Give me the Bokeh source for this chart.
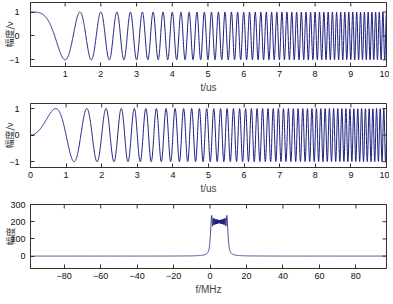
import numpy as np
from bokeh.plotting import figure
from bokeh.layouts import column
from bokeh.models import FixedTicker, Range1d
from bokeh.embed import file_html
from bokeh.resources import INLINE

# chirp parameters
T_us = 10.0      # pulse width (us)
B_MHz = 10.0     # swept bandwidth (MHz)
fs_MHz = 200.0   # sample rate (MHz)

time_ticks_top = [1, 2, 3, 4, 5, 6, 7, 8, 9, 10]
time_ticks_mid = [0, 1, 2, 3, 4, 5, 6, 7, 8, 9, 10]
freq_ticks = [-80, -60, -40, -20, 0, 20, 40, 60, 80]
amp_ticks = [-1, 0, 1]
spec_ticks = [0, 100, 200, 300]

N = int(T_us * fs_MHz)
t = np.arange(N) / fs_MHz
k = B_MHz / T_us
phase = np.pi * k * t ** 2
sig_re = np.cos(phase)
sig_im = np.sin(phase)
spec = np.abs(np.fft.fftshift(np.fft.fft(sig_re + 1j * sig_im)))
freq = np.linspace(-fs_MHz / 2, fs_MHz / 2, N)

LINE = "#1f1f80"
AX = "#333333"
TICK_FONT = "Liberation Sans"
CJK = "Noto Sans CJK SC"


def style_axis(ax, ticks, standoff):
    ax.ticker = FixedTicker(ticks=ticks)
    ax.major_tick_in = 4
    ax.major_tick_out = 0
    ax.minor_tick_in = 0
    ax.minor_tick_out = 0
    ax.axis_line_color = AX
    ax.major_tick_line_color = AX
    ax.major_label_text_font = TICK_FONT
    ax.major_label_text_color = "#111111"
    ax.major_label_text_font_size = "9px"
    ax.major_label_standoff = standoff


def make_fig(xr, yr, frame_h, top_border, xticks, yticks, xlabel, ylabel,
             ytick_standoff, ystand):
    p = figure(frame_width=356, frame_height=frame_h,
               x_range=Range1d(*xr), y_range=Range1d(*yr),
               output_backend="svg", toolbar_location=None,
               min_border_left=23, min_border_right=3,
               min_border_top=top_border, min_border_bottom=0)
    p.xgrid.visible = False
    p.ygrid.visible = False
    p.outline_line_color = AX
    p.outline_line_alpha = 1
    style_axis(p.xaxis[0], xticks, 4)
    style_axis(p.yaxis[0], yticks, ytick_standoff)
    p.xaxis[0].axis_label = xlabel
    p.xaxis[0].axis_label_text_font = TICK_FONT
    p.xaxis[0].axis_label_text_font_size = "10px"
    p.xaxis[0].axis_label_text_font_style = "normal"
    p.xaxis[0].axis_label_standoff = 2
    p.yaxis[0].axis_label = ylabel
    p.yaxis[0].axis_label_text_font = CJK
    p.yaxis[0].axis_label_text_font_size = "9px"
    p.yaxis[0].axis_label_text_font_style = "normal"
    p.yaxis[0].axis_label_text_color = "#333333"
    p.yaxis[0].axis_label_standoff = ystand
    # mirrored inward ticks on the top and right edges (clipped to the frame)
    p.scatter(x=xticks, y=[yr[1]] * len(xticks), marker="dash", angle=np.pi / 2,
              size=8, line_color=AX, line_width=1)
    p.scatter(x=[xr[1]] * len(yticks), y=yticks, marker="dash",
              size=8, line_color=AX, line_width=1)
    return p


p1 = make_fig((0.03, 10.0), (-1.28, 1.4), 64, 2, time_ticks_top, amp_ticks,
              "t/us", "幅度/v", 11, -10)
p1.line(t, sig_re, line_color=LINE, line_width=1)

p2 = make_fig((0.0, 10.0), (-1.22, 1.19), 64, 8, time_ticks_mid, amp_ticks,
              "t/us", "幅度/v", 11, -10)
p2.line(t, sig_im, line_color=LINE, line_width=1)

p3 = make_fig((-98.5, 96.8), (-72, 300), 64, 8, freq_ticks, spec_ticks,
              "f/MHz", "幅度", 5, -10)
p3.line(freq, spec, line_color=LINE, line_width=0.8)

layout = column(p1, p2, p3)
open("out.html", "w").write(file_html(layout, INLINE))
